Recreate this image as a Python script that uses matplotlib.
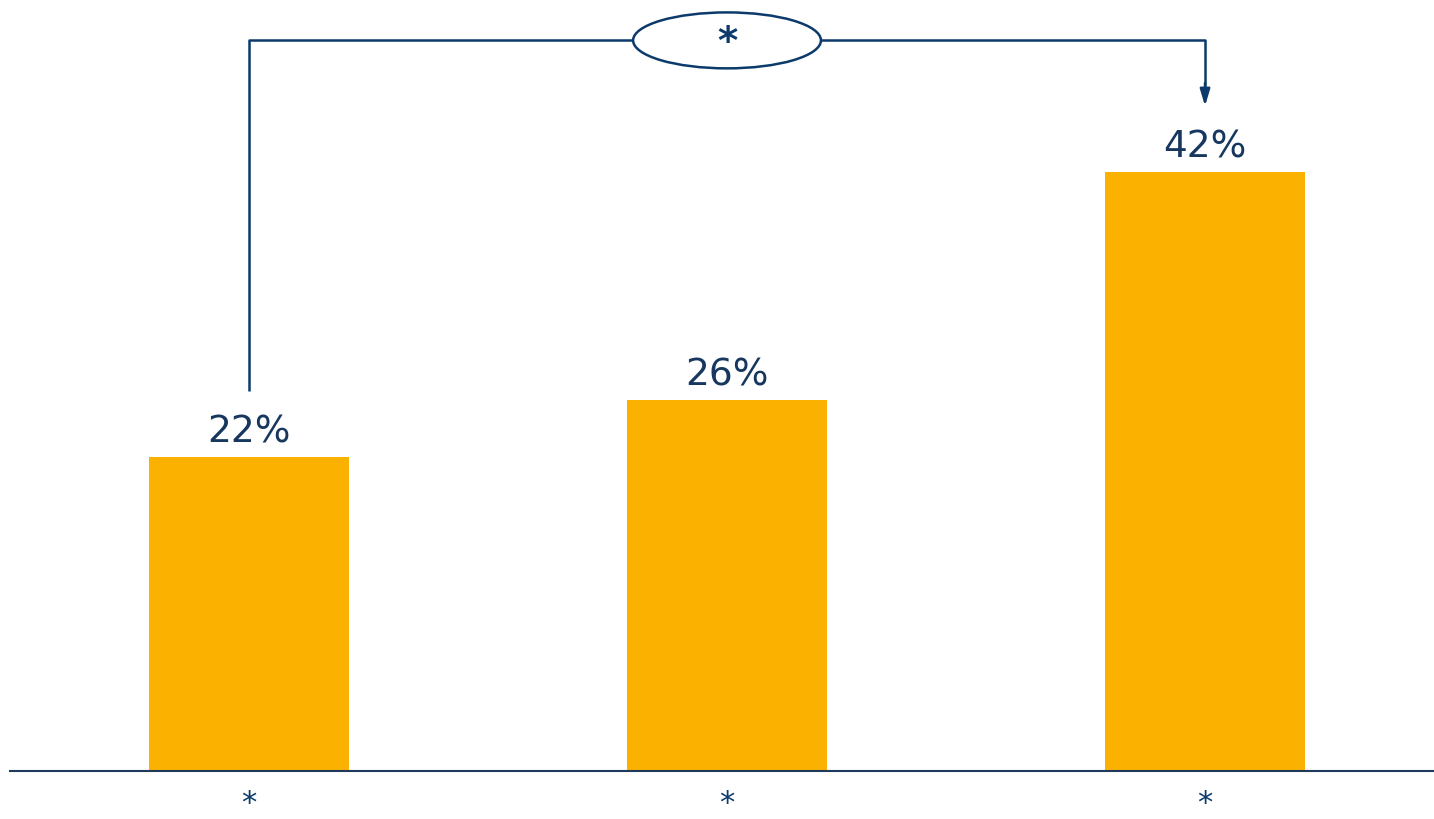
import matplotlib
matplotlib.use("Agg")
import matplotlib.pyplot as plt
from matplotlib.patches import Ellipse

categories = ["*", "*", "*"]
values = [22, 26, 42]
labels = ["22%", "26%", "42%"]
sig_label = "*"

bar_color = "#FBB100"
navy = "#0B3A6B"
text_color = "#17375E"

fig = plt.figure(figsize=(14.34, 8.2), dpi=100)
ax = fig.add_axes([10/1434, 48/820, 1424/1434, 772/820])
x = list(range(len(values)))
ax.bar(x, values, width=0.418, color=bar_color, zorder=2)
ax.set_xlim(-0.5, 2.479)
ax.set_ylim(0, 54.1)
for s in ["top", "right", "left"]:
    ax.spines[s].set_visible(False)
ax.spines["bottom"].set_color("#1F3A5A")
ax.spines["bottom"].set_linewidth(1.5)
ax.set_yticks([])
ax.set_xticks(x)
ax.set_xticklabels(categories, fontsize=22, color=navy)
ax.tick_params(axis="x", length=0, pad=12)

for xi, v, lab in zip(x, values, labels):
    ax.text(xi, v + 0.5, lab, ha="center", va="bottom", fontsize=27, color=text_color)

# significance bracket
by = 51.2
i0, i1 = 0, 2
ex = (x[i0] + x[i1]) / 2
ew, eh = 0.393, 3.92
ax.plot([x[i0], x[i0], ex - ew/2], [values[i0] + 4.6, by, by], color=navy, lw=1.8, solid_capstyle="butt")
ax.plot([ex + ew/2, x[i1], x[i1]], [by, by, values[i1] + 6.0], color=navy, lw=1.8, solid_capstyle="butt")
ax.annotate("", xy=(x[i1], values[i1] + 4.6), xytext=(x[i1], values[i1] + 6.2),
            arrowprops=dict(arrowstyle="-|>,head_length=1.0,head_width=0.3", color=navy, lw=1.8, shrinkA=0, shrinkB=0))
ax.add_patch(Ellipse((ex, by), ew, eh, facecolor="white", edgecolor=navy, lw=1.8, zorder=3))
ax.text(ex, by - 0.1, sig_label, ha="center", va="center", fontsize=28, fontweight="bold", color=navy, zorder=4)

fig.savefig("out.png", dpi=100)
